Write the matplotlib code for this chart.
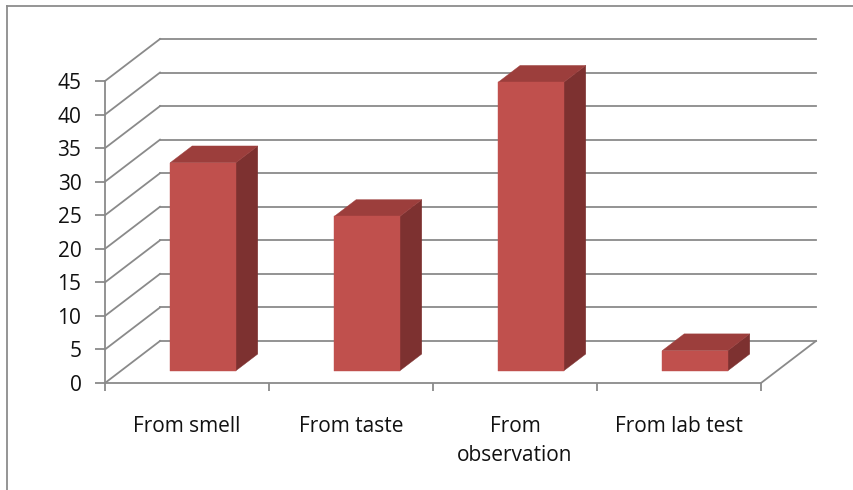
import matplotlib
matplotlib.use("Agg")
import matplotlib.pyplot as plt
from matplotlib.patches import Polygon
from matplotlib.lines import Line2D

categories = ["From smell", "From taste", "From\nobservation", "From lab test"]
values = [31, 23, 43, 3]
y_ticks = [0, 5, 10, 15, 20, 25, 30, 35, 40, 45]

FRONT = "#C0504D"
SIDE = "#7D3130"
TOP = "#9C3E3C"
GRID = "#8A8A8A"
TEXT = "#111111"

plt.rcParams["font.family"] = ["Open Sans", "DejaVu Sans"]

fig = plt.figure(figsize=(8.54, 4.90), dpi=100)
fig.patch.set_facecolor("white")

# front plane of the 3-D box: x in category units, y in value units
ax = fig.add_axes([105 / 854, 107 / 490, 656 / 854, 302 / 490])
ax.set_xlim(0, len(categories))
ax.set_ylim(0, y_ticks[-1])
ax.set_facecolor("none")

# oblique depth offset (full depth of the box) in data units
DX = 55 / 164.0
DY = 42 / (302 / 45)


def proj(x, y, z):
    return (x + z * DX, y + z * DY)


lw = 1.3
ncat = len(categories)
# back wall gridlines
for v in y_ticks:
    a = proj(0, v, 1)
    b = proj(ncat, v, 1)
    ax.add_line(Line2D([a[0], b[0]], [a[1], b[1]], color=GRID, lw=lw, clip_on=False, zorder=1))
# side wall gridlines
for v in y_ticks:
    a = proj(0, v, 0)
    b = proj(0, v, 1)
    ax.add_line(Line2D([a[0], b[0]], [a[1], b[1]], color=GRID, lw=lw, clip_on=False, zorder=1))
# right edge of the floor
a = proj(ncat, 0, 0)
b = proj(ncat, 0, 1)
ax.add_line(Line2D([a[0], b[0]], [a[1], b[1]], color=GRID, lw=lw, clip_on=False, zorder=1))

# bars
bw = 0.4
z0, z1 = 0.29, 0.69
for i, v in enumerate(values):
    x0 = i + 0.5 - bw / 2
    x1 = i + 0.5 + bw / 2
    front = [proj(x0, 0, z0), proj(x1, 0, z0), proj(x1, v, z0), proj(x0, v, z0)]
    side = [proj(x1, 0, z0), proj(x1, 0, z1), proj(x1, v, z1), proj(x1, v, z0)]
    top = [proj(x0, v, z0), proj(x1, v, z0), proj(x1, v, z1), proj(x0, v, z1)]
    for pts, col in ((side, SIDE), (top, TOP), (front, FRONT)):
        ax.add_patch(Polygon(pts, closed=True, facecolor=col, edgecolor=col,
                             lw=0.3, clip_on=False, zorder=3))

for s in ("top", "right"):
    ax.spines[s].set_visible(False)
for s in ("left", "bottom"):
    ax.spines[s].set_color(GRID)
    ax.spines[s].set_linewidth(lw)
    ax.spines[s].set_zorder(2)

ax.set_yticks(y_ticks)
ax.set_yticklabels([str(t) for t in y_ticks])
ax.tick_params(axis="y", direction="out", length=7, width=lw, color=GRID,
               pad=10, labelsize=15, labelcolor=TEXT)

ax.set_xticks([i + 0.5 for i in range(ncat)])
ax.set_xticklabels(categories, linespacing=1.45)
ax.set_xticks(list(range(ncat + 1)), minor=True)
ax.tick_params(axis="x", which="major", length=0, pad=24, labelsize=15, labelcolor=TEXT)
ax.tick_params(axis="x", which="minor", direction="out", length=6, width=lw, color=GRID)

# chart-area frame
fig.add_artist(Line2D([7 / 854, 7 / 854], [0, 1 - 6 / 490], color="#8C8C8C", lw=1.3,
                      transform=fig.transFigure))
fig.add_artist(Line2D([7 / 854, 1], [1 - 6 / 490, 1 - 6 / 490], color="#8C8C8C", lw=1.3,
                      transform=fig.transFigure))

fig.savefig("out.png", dpi=100, facecolor="white")
